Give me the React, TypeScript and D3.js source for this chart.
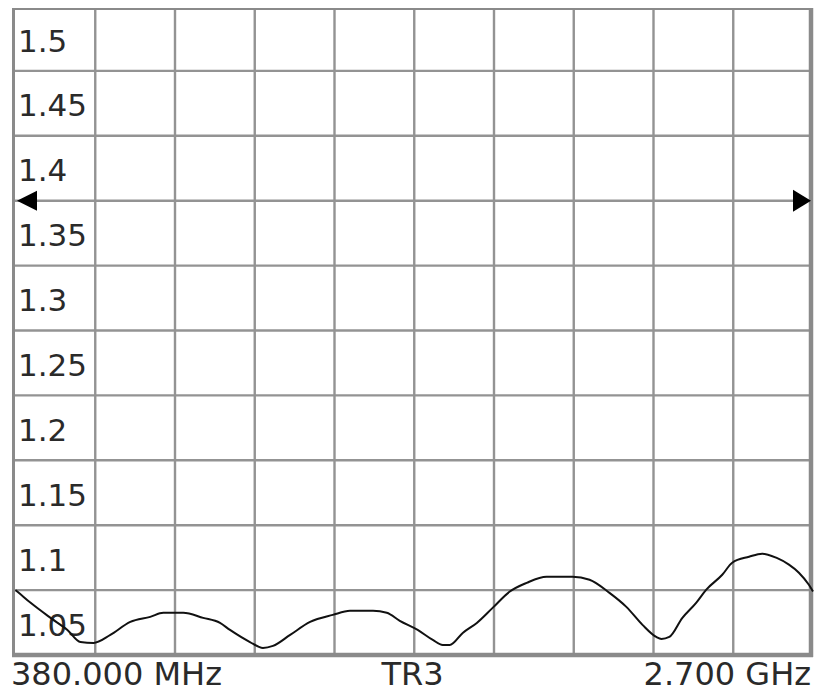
import React from "react";
import * as d3 from "d3";

// Trace data: frequency (MHz) and VSWR
const freqMHz = [
  380, 386, 424, 482, 531, 569, 607, 656, 714, 772, 810, 868, 926, 975, 1004,
  1062, 1100, 1129, 1179, 1237, 1303, 1353, 1420, 1460, 1498, 1550, 1594, 1623,
  1643, 1681, 1722, 1768, 1817, 1867, 1925, 2000, 2050, 2108, 2157, 2204, 2244,
  2259, 2282, 2320, 2360, 2389, 2436, 2465, 2514, 2552, 2593, 2630, 2659, 2688, 2700,
];
const vswr = [
  1.050, 1.0487, 1.0402, 1.0286, 1.0193, 1.0100, 1.0093, 1.0155, 1.0255, 1.0294,
  1.0325, 1.0325, 1.0286, 1.0247, 1.0193, 1.0100, 1.0054, 1.0070, 1.0155, 1.0255,
  1.0309, 1.0340, 1.0340, 1.0325, 1.0263, 1.0193, 1.0116, 1.0077, 1.0077, 1.0170,
  1.0247, 1.0363, 1.0487, 1.0556, 1.0603, 1.0603, 1.0580, 1.0479, 1.0371, 1.0232,
  1.0139, 1.0124, 1.0139, 1.0286, 1.0402, 1.0502, 1.0618, 1.0711, 1.0757, 1.0781,
  1.0750, 1.0696, 1.0634, 1.0541, 1.0490,
];

const yTickValues = [1.5, 1.45, 1.4, 1.35, 1.3, 1.25, 1.2, 1.15, 1.1, 1.05];
const yTickLabels = ["1.5", "1.45", "1.4", "1.35", "1.3", "1.25", "1.2", "1.15", "1.1", "1.05"];
const startLabel = "380.000 MHz";
const centerLabel = "TR3";
const stopLabel = "2.700 GHz";
const referenceValue = 1.35;
const xDivisions = 10;
const yDivisions = 10;

export default function App() {
  const W = 815;
  const H = 694;
  const x = d3.scaleLinear().domain([380, 2700]).range([15.5, 813]);
  const y = d3.scaleLinear().domain([1.0, 1.5]).range([655, 6]);

  const xGrid = d3.range(1, xDivisions).map((i) => 380 + (i * (2700 - 380)) / xDivisions);
  const yGrid = d3.range(1, yDivisions).map((i) => 1.0 + (i * 0.5) / yDivisions);

  const line = d3
    .line<number>()
    .x((_, i) => x(freqMHz[i]))
    .y((d) => y(d))
    .curve(d3.curveMonotoneX);

  const refY = y(referenceValue);
  const font = "'DejaVu Sans', Verdana, sans-serif";
  const gridColor = "#939393";
  const frameColor = "#8a8a8a";

  return (
    <svg
      width={W}
      height={H}
      style={{ position: "absolute", left: 0, top: 0, background: "#fff" }}
    >
      <rect x={0} y={0} width={W} height={H} fill="#fff" />
      {xGrid.map((f, i) => (
        <line key={"vx" + i} x1={x(f)} x2={x(f)} y1={9} y2={655} stroke={gridColor} strokeWidth={2.4} />
      ))}
      {yGrid.map((v, i) => (
        <line key={"hy" + i} x1={14} x2={811} y1={y(v)} y2={y(v)} stroke={gridColor} strokeWidth={2.4} />
      ))}
      {/* frame */}
      <line x1={13} x2={813} y1={9} y2={9} stroke={frameColor} strokeWidth={2} />
      <line x1={13.5} x2={13.5} y1={8} y2={657} stroke={frameColor} strokeWidth={3} />
      <line x1={811} x2={811} y1={8} y2={657} stroke={frameColor} strokeWidth={4.5} />
      <line x1={12} x2={813} y1={655} y2={655} stroke={frameColor} strokeWidth={4.5} />

      {/* reference line arrows */}
      <path d={`M17,${refY} L37,${refY - 10} L37,${refY + 10} Z`} fill="#000" />
      <path d={`M811,${refY} L793,${refY - 11} L793,${refY + 11} Z`} fill="#000" />

      {/* y labels */}
      {yTickValues.map((v, i) => (
        <text
          key={"yl" + i}
          x={18}
          y={y(v) + 45.5}
          fontFamily={font}
          fontSize={31}
          fill="#2a2a2a"
        >
          {yTickLabels[i]}
        </text>
      ))}

      {/* trace */}
      <path d={line(vswr) || ""} fill="none" stroke="#111" strokeWidth={2} strokeLinejoin="round" />

      {/* bottom annotations */}
      <text x={11} y={685} fontFamily={font} fontSize={32} fill="#2a2a2a">
        {startLabel}
      </text>
      <text x={412.5} y={685} fontFamily={font} fontSize={32} fill="#2a2a2a" textAnchor="middle">
        {centerLabel}
      </text>
      <text x={811} y={685} fontFamily={font} fontSize={32} fill="#2a2a2a" textAnchor="end">
        {stopLabel}
      </text>
    </svg>
  );
}
